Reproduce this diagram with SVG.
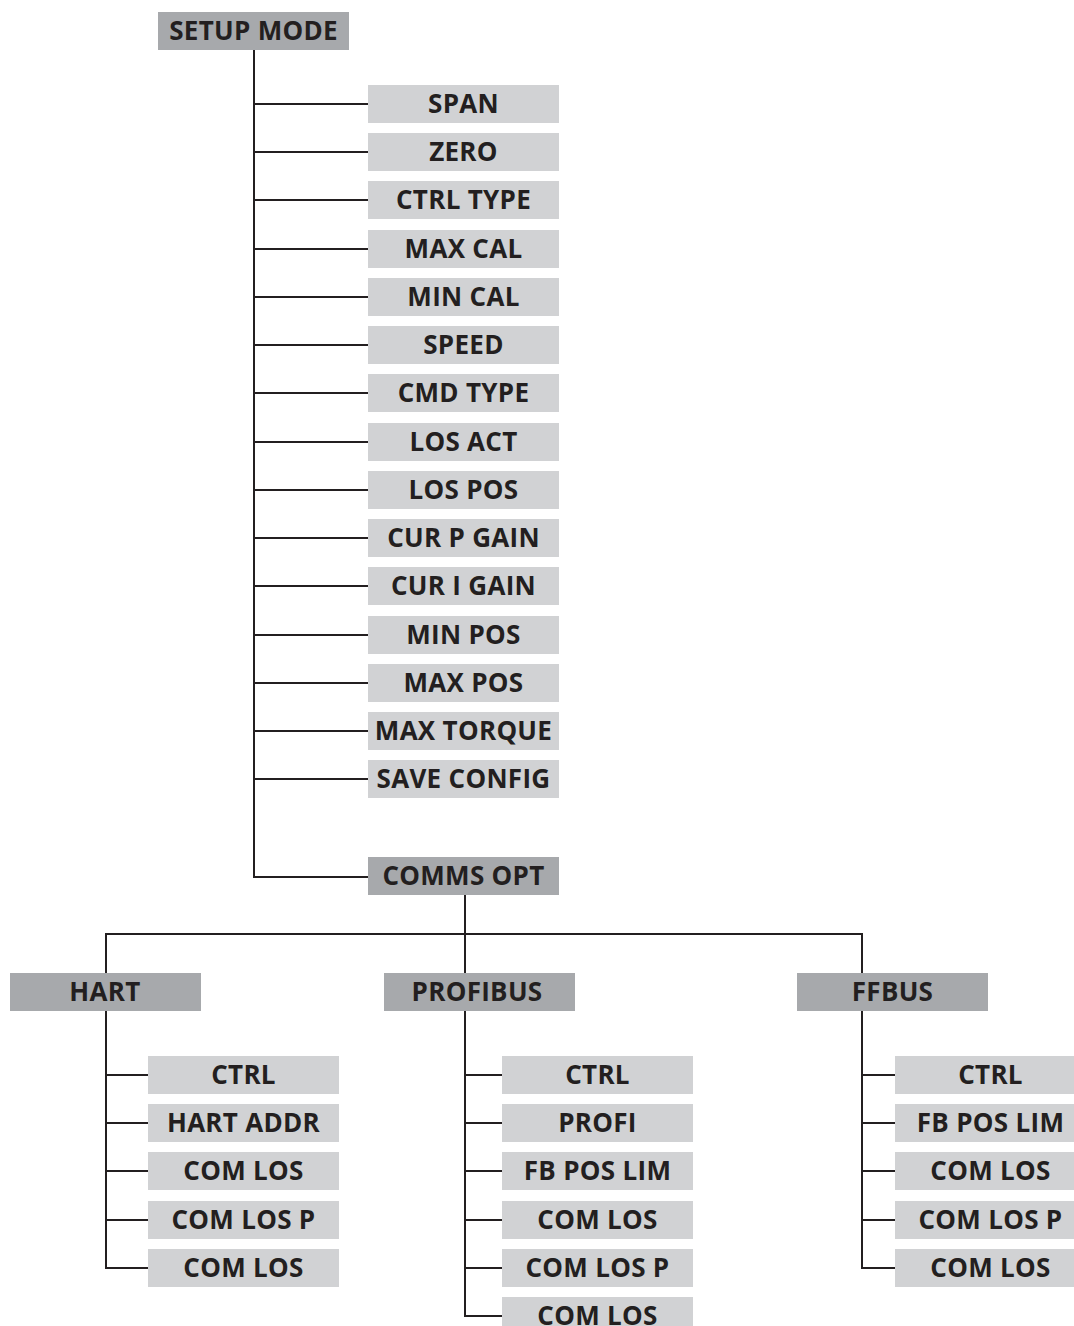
<svg xmlns="http://www.w3.org/2000/svg" width="1074" height="1326" viewBox="0 0 1074 1326">
<style>
.lt{fill:#d1d2d4}
.dk{fill:#a7a9ac}
text{font-family:"Open Sans","Liberation Sans",sans-serif;font-weight:bold;font-size:26px;letter-spacing:0.3px;fill:#231f20;text-anchor:middle}
.c{fill:none;stroke:#231f20;stroke-width:2}
</style>
<rect width="1074" height="1326" fill="#fff"/>
<g id="connectors" class="c">
<path d="M254 50V877H368"/>
<path d="M254 104H368M254 152H368M254 200H368M254 249H368M254 297H368M254 345H368M254 393H368M254 442H368M254 490H368M254 538H368M254 586H368M254 635H368M254 683H368M254 731H368M254 779H368"/>
<path d="M465 895V1316H502"/>
<path d="M106 973V934H862V973"/>
<path d="M106 1011V1268H148M106 1075H148M106 1123H148M106 1171H148M106 1220H148"/>
<path d="M465 1075H502M465 1123H502M465 1171H502M465 1220H502M465 1268H502"/>
<path d="M862 1011V1268H895M862 1075H895M862 1123H895M862 1171H895M862 1220H895"/>
</g>
<g id="setup-mode"><rect class="dk" x="158" y="12" width="191" height="38"/><text x="253.5" y="40">SETUP MODE</text></g>
<g id="span"><rect class="lt" x="368" y="85" width="191" height="38"/><text x="463.5" y="113">SPAN</text></g>
<g id="zero"><rect class="lt" x="368" y="133" width="191" height="38"/><text x="463.5" y="161">ZERO</text></g>
<g id="ctrl-type"><rect class="lt" x="368" y="181" width="191" height="38"/><text x="463.5" y="209">CTRL TYPE</text></g>
<g id="max-cal"><rect class="lt" x="368" y="230" width="191" height="38"/><text x="463.5" y="258">MAX CAL</text></g>
<g id="min-cal"><rect class="lt" x="368" y="278" width="191" height="38"/><text x="463.5" y="306">MIN CAL</text></g>
<g id="speed"><rect class="lt" x="368" y="326" width="191" height="38"/><text x="463.5" y="354">SPEED</text></g>
<g id="cmd-type"><rect class="lt" x="368" y="374" width="191" height="38"/><text x="463.5" y="402">CMD TYPE</text></g>
<g id="los-act"><rect class="lt" x="368" y="423" width="191" height="38"/><text x="463.5" y="451">LOS ACT</text></g>
<g id="los-pos"><rect class="lt" x="368" y="471" width="191" height="38"/><text x="463.5" y="499">LOS POS</text></g>
<g id="cur-p-gain"><rect class="lt" x="368" y="519" width="191" height="38"/><text x="463.5" y="547">CUR P GAIN</text></g>
<g id="cur-i-gain"><rect class="lt" x="368" y="567" width="191" height="38"/><text x="463.5" y="595">CUR I GAIN</text></g>
<g id="min-pos"><rect class="lt" x="368" y="616" width="191" height="38"/><text x="463.5" y="644">MIN POS</text></g>
<g id="max-pos"><rect class="lt" x="368" y="664" width="191" height="38"/><text x="463.5" y="692">MAX POS</text></g>
<g id="max-torque"><rect class="lt" x="368" y="712" width="191" height="38"/><text x="463.5" y="740">MAX TORQUE</text></g>
<g id="save-config"><rect class="lt" x="368" y="760" width="191" height="38"/><text x="463.5" y="788">SAVE CONFIG</text></g>
<g id="comms-opt"><rect class="dk" x="368" y="857" width="191" height="38"/><text x="463.5" y="885">COMMS OPT</text></g>
<g id="hart"><rect class="dk" x="10" y="973" width="191" height="38"/><text x="105" y="1001">HART</text></g>
<g id="profibus"><rect class="dk" x="384" y="973" width="191" height="38"/><text x="477" y="1001">PROFIBUS</text></g>
<g id="ffbus"><rect class="dk" x="797" y="973" width="191" height="38"/><text x="892.5" y="1001">FFBUS</text></g>
<g id="hart-ctrl"><rect class="lt" x="148" y="1056" width="191" height="38"/><text x="243.5" y="1084">CTRL</text></g>
<g id="hart-addr"><rect class="lt" x="148" y="1104" width="191" height="38"/><text x="243.5" y="1132">HART ADDR</text></g>
<g id="hart-com-los-1"><rect class="lt" x="148" y="1152" width="191" height="38"/><text x="243.5" y="1180">COM LOS</text></g>
<g id="hart-com-los-p"><rect class="lt" x="148" y="1201" width="191" height="38"/><text x="243.5" y="1229">COM LOS P</text></g>
<g id="hart-com-los-2"><rect class="lt" x="148" y="1249" width="191" height="38"/><text x="243.5" y="1277">COM LOS</text></g>
<g id="pb-ctrl"><rect class="lt" x="502" y="1056" width="191" height="38"/><text x="597.5" y="1084">CTRL</text></g>
<g id="pb-profi"><rect class="lt" x="502" y="1104" width="191" height="38"/><text x="597.5" y="1132">PROFI</text></g>
<g id="pb-fb-pos-lim"><rect class="lt" x="502" y="1152" width="191" height="38"/><text x="597.5" y="1180">FB POS LIM</text></g>
<g id="pb-com-los-1"><rect class="lt" x="502" y="1201" width="191" height="38"/><text x="597.5" y="1229">COM LOS</text></g>
<g id="pb-com-los-p"><rect class="lt" x="502" y="1249" width="191" height="38"/><text x="597.5" y="1277">COM LOS P</text></g>
<g id="pb-com-los-2"><rect class="lt" x="502" y="1297" width="191" height="38"/><text x="597.5" y="1325">COM LOS</text></g>
<g id="ff-ctrl"><rect class="lt" x="895" y="1056" width="191" height="38"/><text x="990.5" y="1084">CTRL</text></g>
<g id="ff-fb-pos-lim"><rect class="lt" x="895" y="1104" width="191" height="38"/><text x="990.5" y="1132">FB POS LIM</text></g>
<g id="ff-com-los-1"><rect class="lt" x="895" y="1152" width="191" height="38"/><text x="990.5" y="1180">COM LOS</text></g>
<g id="ff-com-los-p"><rect class="lt" x="895" y="1201" width="191" height="38"/><text x="990.5" y="1229">COM LOS P</text></g>
<g id="ff-com-los-2"><rect class="lt" x="895" y="1249" width="191" height="38"/><text x="990.5" y="1277">COM LOS</text></g>
</svg>
